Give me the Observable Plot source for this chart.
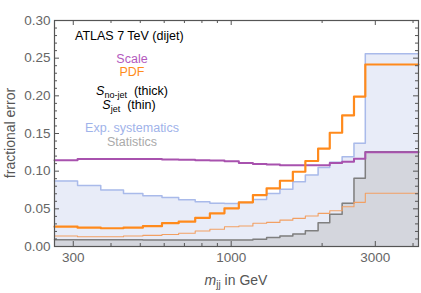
<!DOCTYPE html>
<html><head><meta charset="utf-8">
<script src="https://cdn.jsdelivr.net/npm/d3@7"></script>
<script src="https://cdn.jsdelivr.net/npm/@observablehq/plot@0.6"></script>
<style>html,body{margin:0;padding:0;background:#fff}svg{display:block}</style>
</head><body><div id="chart"></div>
<script>
// m_jj bin edges (GeV)
const binEdges = [260,310,370,440,510,590,670,760,850,950,1060,1180,1310,1450,1600,1760,1940,2120,2330,2550,2780,4170];
// fractional errors per bin
const scaleErr = [0.1145,0.116,0.116,0.116,0.116,0.1155,0.115,0.1145,0.114,0.113,0.111,0.1095,0.109,0.108,0.108,0.108,0.108,0.111,0.1125,0.1165,0.125];
const pdfNoJet = [0.0263,0.025,0.0242,0.025,0.027,0.031,0.033,0.038,0.044,0.0507,0.0586,0.0683,0.0772,0.0873,0.0992,0.1135,0.130,0.151,0.174,0.199,0.2416];
const pdfJet   = [0.0139,0.013,0.013,0.0139,0.0148,0.016,0.0175,0.0205,0.0228,0.0263,0.0272,0.0308,0.032,0.035,0.0374,0.0405,0.044,0.0475,0.0528,0.0586,0.0706];
const expSyst  = [0.087,0.081,0.075,0.0705,0.0675,0.065,0.062,0.0595,0.0575,0.057,0.0585,0.0625,0.0705,0.076,0.086,0.095,0.105,0.112,0.119,0.137,0.256];
const statErr  = [0.009,0.009,0.009,0.009,0.0085,0.0085,0.0085,0.0085,0.0085,0.0085,0.0085,0.0095,0.012,0.014,0.0166,0.021,0.0316,0.0427,0.0573,0.0905,0.1257];
// ticks
const xTicks = [300,1000,3000];
const xMinor = [400,500,600,700,800,900,2000,4000];
const yTicks = [0,0.05,0.10,0.15,0.20,0.25,0.30];
const yMinor = [0.01,0.02,0.03,0.04,0.06,0.07,0.08,0.09,0.11,0.12,0.13,0.14,0.16,0.17,0.18,0.19,0.21,0.22,0.23,0.24,0.26,0.27,0.28,0.29];
// texts
const titleText = "ATLAS 7 TeV (dijet)";
const xLabel = ["m", "jj", " in GeV"];
const yLabel = "fractional error";

const W = 421, H = 293, mL = 54, mR = 3, mT = 20, mB = 47;
const fh = H - mT - mB, fw = W - mL - mR;
const steps = vals => binEdges.map((e, i) => ({x: e, y: vals[Math.min(i, vals.length - 1)]}));
const C = {frame: "#555", tick: "#666"};

const svg = Plot.plot({
  width: W, height: H,
  marginLeft: mL, marginRight: mR, marginTop: mT, marginBottom: mB,
  style: {fontFamily: "'Liberation Sans', Arial, sans-serif", background: "#fff"},
  x: {type: "log", domain: [binEdges[0], binEdges[binEdges.length - 1]]},
  y: {domain: [0, 0.30]},
  marks: [
    Plot.areaY(steps(expSyst), {x: "x", y: "y", curve: "step-after", fill: "#e8ecf8"}),
    Plot.areaY(steps(statErr), {x: "x", y: "y", curve: "step-after", fill: "#d4d6dd"}),
    Plot.line(steps(expSyst), {x: "x", y: "y", curve: "step-after", stroke: "#a9baea", strokeWidth: 1.5}),
    Plot.line(steps(statErr), {x: "x", y: "y", curve: "step-after", stroke: "#7f7f7f", strokeWidth: 1.5}),
    Plot.line(steps(pdfJet), {x: "x", y: "y", curve: "step-after", stroke: "#f2a063", strokeWidth: 1.1}),
    Plot.line(steps(scaleErr), {x: "x", y: "y", curve: "step-after", stroke: "#a852ae", strokeWidth: 2}),
    Plot.line(steps(pdfNoJet), {x: "x", y: "y", curve: "step-after", stroke: "#ff8a1c", strokeWidth: 2.2}),
    Plot.frame({stroke: C.frame, strokeWidth: 1.2}),
    Plot.ruleX(xTicks, {insetTop: fh - 5, stroke: C.frame}),
    Plot.ruleX(xTicks, {insetBottom: fh - 5, stroke: C.frame}),
    Plot.ruleX(xMinor, {insetTop: fh - 3, stroke: C.frame}),
    Plot.ruleX(xMinor, {insetBottom: fh - 3, stroke: C.frame}),
    Plot.ruleY(yTicks, {insetRight: fw - 5, stroke: C.frame}),
    Plot.ruleY(yTicks, {insetLeft: fw - 5, stroke: C.frame}),
    Plot.ruleY(yMinor, {insetRight: fw - 3, stroke: C.frame}),
    Plot.ruleY(yMinor, {insetLeft: fw - 3, stroke: C.frame}),
    Plot.axisX({ticks: xTicks, tickSize: 0, tickPadding: 6, tickFormat: d => String(d), fontSize: 13.5, color: C.tick, label: null}),
    Plot.axisY({ticks: yTicks, tickSize: 0, tickPadding: 4, tickFormat: d3.format(".2f"), fontSize: 13.5, color: C.tick, label: null})
  ]
});
document.getElementById("chart").append(svg);

const s = d3.select(svg);
const ff = "'Liberation Sans', Arial, sans-serif";
function addText(x, y, parts, opts = {}) {
  const t = s.append("text").attr("x", x).attr("y", y)
    .attr("text-anchor", opts.anchor || "middle")
    .attr("font-size", opts.size || 12.5).attr("font-family", ff)
    .attr("fill", opts.fill || "#000");
  if (opts.rotate) t.attr("transform", `rotate(-90 ${x} ${y})`);
  parts.forEach(p => {
    const ts = t.append("tspan").text(p.t);
    if (p.italic) ts.attr("font-style", "italic");
    if (p.sub) ts.attr("font-size", p.sub).attr("dy", p.dy);
    else if (p.dy) ts.attr("dy", p.dy);
  });
  return t;
}
const lx = 132;
addText(75, 39.5, [{t: titleText}], {anchor: "start"});
addText(lx, 62.5, [{t: "Scale"}], {fill: "#b45abe"});
addText(lx, 76, [{t: "PDF"}], {fill: "#ff8c1a"});
addText(lx, 95, [{t: "S", italic: true}, {t: "no-jet", sub: 9, dy: 2.5}, {t: "  (thick)", dy: -2.5}]);
addText(lx - 3, 109, [{t: "S", italic: true}, {t: "jet", sub: 9, dy: 2.5}, {t: "  (thin)", dy: -2.5}]);
addText(lx, 132, [{t: "Exp. systematics"}], {fill: "#9fb3ea"});
addText(lx, 146, [{t: "Statistics"}], {fill: "#aaaaaa"});
addText(236, 285, [{t: xLabel[0], italic: true}, {t: xLabel[1], sub: 10, dy: 3}, {t: xLabel[2], dy: -3}], {size: 14, fill: "#555"});
addText(15, mT + fh / 2, [{t: yLabel}], {size: 14, fill: "#555", rotate: true});
</script>
</body></html>
